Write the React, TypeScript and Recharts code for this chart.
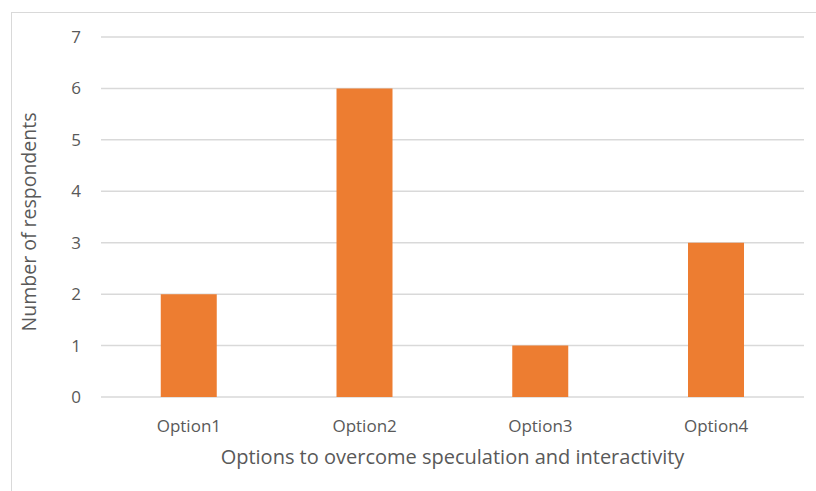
import { BarChart, Bar, XAxis, YAxis, CartesianGrid, Label } from "recharts"

const options = ["Option1", "Option2", "Option3", "Option4"]
const respondents = [2, 6, 1, 3]
const yTicks = [0, 1, 2, 3, 4, 5, 6, 7]

const data = options.map((option, i) => ({ option, respondents: respondents[i] }))

const font = "'Open Sans', sans-serif"
const textColor = "#595959"

export default function App() {
  return (
    <div
      style={{
        position: "fixed",
        left: 0,
        top: 0,
        width: 816,
        height: 491,
        overflow: "hidden",
        background: "#fff",
      }}
    >
      <div
        style={{
          position: "absolute",
          left: 11,
          top: 12,
          width: 830,
          height: 500,
          border: "1px solid #d9d9d9",
          boxSizing: "border-box",
        }}
      />
      <div style={{ position: "absolute", left: 0, top: 0 }}>
        <BarChart
          width={816}
          height={491}
          data={data}
          margin={{ top: 37, right: 12, left: 0, bottom: 0 }}
          barCategoryGap="34%"
        >
          <CartesianGrid vertical={false} stroke="#d9d9d9" strokeWidth={1.5} />
          <XAxis
            dataKey="option"
            height={94}
            axisLine={false}
            tickLine={false}
            tickSize={0}
            tickMargin={23}
            tick={{ fontSize: 17, fill: textColor, fontFamily: font }}
          >
            <Label
              value="Options to overcome speculation and interactivity"
              position="insideTop"
              offset={53}
              style={{ fontSize: 20, fill: textColor, fontFamily: font }}
            />
          </XAxis>
          <YAxis
            width={101}
            domain={[0, 7]}
            ticks={yTicks}
            interval={0}
            axisLine={false}
            tickLine={false}
            tickSize={0}
            tickMargin={20}
            tick={{ fontSize: 17, fill: textColor, fontFamily: font }}
          >
            <Label
              value="Number of respondents"
              angle={-90}
              position="insideLeft"
              offset={29}
              dy={5}
              style={{ fontSize: 19.5, fill: textColor, fontFamily: font, textAnchor: "middle" }}
            />
          </YAxis>
          <Bar dataKey="respondents" fill="#ED7D31" isAnimationActive={false} />
        </BarChart>
      </div>
    </div>
  )
}
